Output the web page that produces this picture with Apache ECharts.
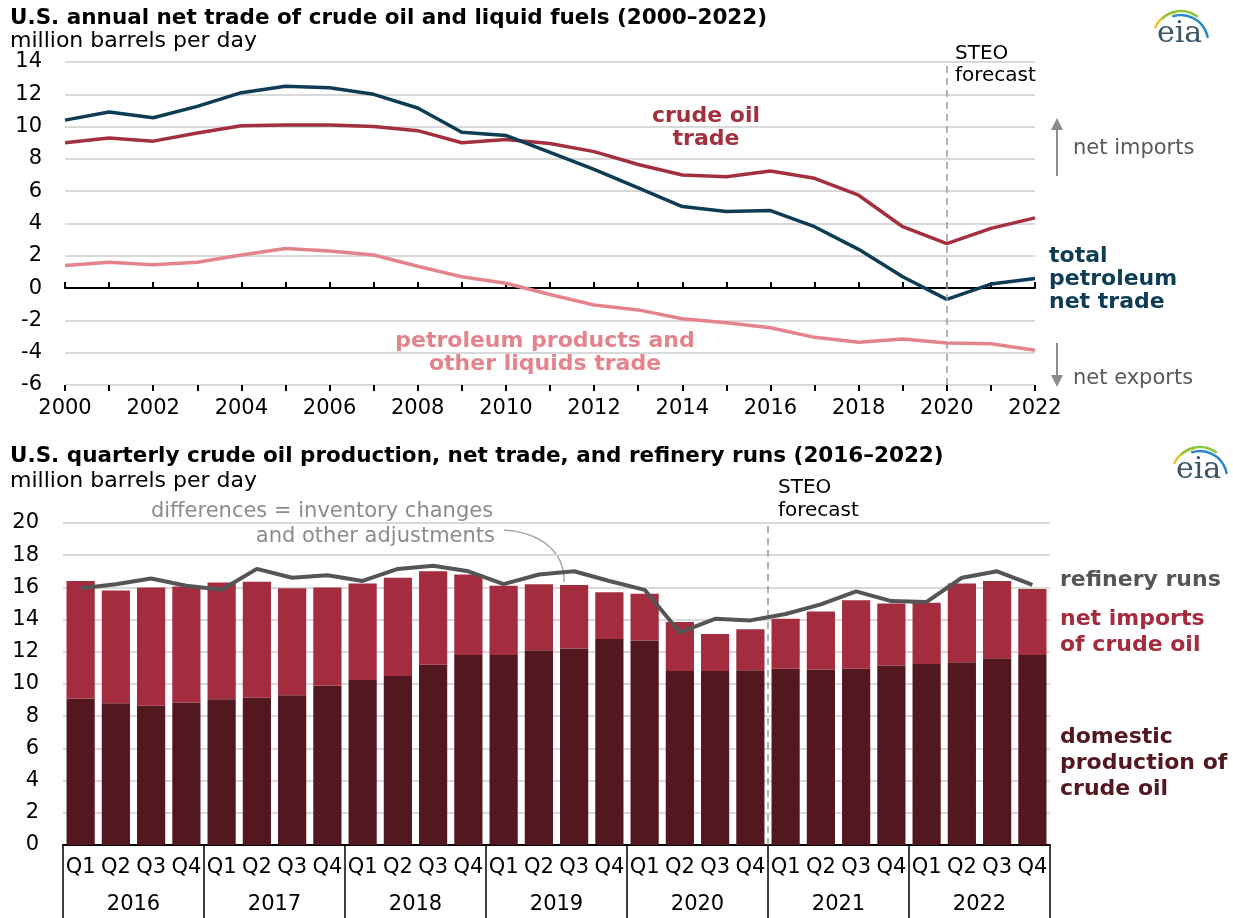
<!DOCTYPE html>
<html>
<head>
<meta charset="utf-8">
<script src="https://cdn.jsdelivr.net/npm/echarts@6/dist/echarts.min.js"></script>
<style>
  html, body { margin: 0; padding: 0; background: #fff; }
  #main { width: 1233px; height: 918px; }
</style>
</head>
<body>
<div id="main"></div>
<script>
// top panel: annual net trade, 2000-2022 (million b/d)
var years = [2000, 2001, 2002, 2003, 2004, 2005, 2006, 2007, 2008, 2009, 2010, 2011,
             2012, 2013, 2014, 2015, 2016, 2017, 2018, 2019, 2020, 2021, 2022];
var totalNetTrade = [10.4, 10.9, 10.55, 11.25, 12.1, 12.5, 12.4, 12.0, 11.15, 9.65, 9.45, 8.4,
                     7.35, 6.2, 5.05, 4.75, 4.8, 3.8, 2.4, 0.7, -0.7, 0.25, 0.6];
var crudeTrade = [9.0, 9.3, 9.1, 9.6, 10.05, 10.1, 10.1, 10.0, 9.75, 9.0, 9.2, 8.95,
                  8.45, 7.65, 7.0, 6.9, 7.25, 6.8, 5.75, 3.8, 2.75, 3.7, 4.35];
var productsTrade = [1.4, 1.6, 1.45, 1.6, 2.05, 2.45, 2.3, 2.05, 1.35, 0.7, 0.3, -0.4,
                     -1.05, -1.35, -1.9, -2.15, -2.45, -3.05, -3.35, -3.15, -3.4, -3.45, -3.85];
var forecastYear = 2020;

// bottom panel: quarterly, 2016-2022 (million b/d)
var quarterNames = ['Q1', 'Q2', 'Q3', 'Q4'];
var yearLabels = ['2016', '2017', '2018', '2019', '2020', '2021', '2022'];
var domesticProduction = [9.1, 8.8, 8.65, 8.85, 9.05, 9.15, 9.3, 9.9,
                          10.25, 10.5, 11.2, 11.8, 11.8, 12.1, 12.2, 12.8,
                          12.7, 10.8, 10.8, 10.85, 10.95, 10.9, 10.95, 11.15,
                          11.25, 11.35, 11.6, 11.8];
var netImportsCrude = [7.3, 7.0, 7.35, 7.2, 7.25, 7.2, 6.65, 6.1,
                       6.0, 6.1, 5.8, 5.0, 4.3, 4.1, 3.95, 2.9,
                       2.9, 3.05, 2.3, 2.55, 3.1, 3.6, 4.25, 3.85,
                       3.8, 4.9, 4.8, 4.1];
var refineryRuns = [15.95, 16.2, 16.55, 16.1, 15.85, 17.15, 16.6, 16.75,
                    16.4, 17.15, 17.35, 17.0, 16.2, 16.8, 17.0, 16.4,
                    15.85, 13.2, 14.05, 13.95, 14.35, 14.95, 15.75, 15.15,
                    15.1, 16.6, 17.0, 16.15];
var forecastQuarterIndex = 20; // 2021 Q1 starts the forecast

var quarterLabels = [];
yearLabels.forEach(function () {
  quarterNames.forEach(function (q) { quarterLabels.push(q); });
});

var FONT = 'DejaVu Sans';
var TICK = 21;
var C_TOTAL = '#0d3c55';
var C_CRUDE = '#a3303f';
var C_PROD = '#e3848d';
var C_DOM = '#52171f';
var C_IMP = '#a32c3e';
var C_RUNS = '#555555';

function pairs(xs, ys) {
  return xs.map(function (x, i) { return [x, ys[i]]; });
}

function txt(x, y, text, opt) {
  opt = opt || {};
  return {
    type: 'text', silent: true,
    style: {
      x: x, y: y, text: text,
      font: (opt.weight || 'normal') + ' ' + (opt.size || 21) + 'px "' + FONT + '"',
      fill: opt.color || '#000',
      textAlign: opt.align || 'left',
      textVerticalAlign: 'middle',
      lineHeight: opt.lh || 23
    }
  };
}

function logo(x, y) {
  return [
    { type: 'arc', silent: true, shape: { cx: x + 22, cy: y + 34, r: 26, startAngle: -2.75, endAngle: -1.7 },
      style: { stroke: '#f2c01e', lineWidth: 2.5, fill: null } },
    { type: 'arc', silent: true, shape: { cx: x + 24, cy: y + 34, r: 27, startAngle: -2.35, endAngle: -0.9 },
      style: { stroke: '#8cc63f', lineWidth: 2.5, fill: null } },
    { type: 'arc', silent: true, shape: { cx: x + 24, cy: y + 38, r: 27, startAngle: -1.9, endAngle: -0.15 },
      style: { stroke: '#2a8ac8', lineWidth: 2.5, fill: null } },
    { type: 'text', silent: true,
      style: { x: x, y: y + 30, text: 'eia', font: '30px "DejaVu Serif"', fill: '#3b5566',
               textVerticalAlign: 'middle' } }
  ];
}

function arrow(x, y1, y2) {
  var dir = y2 < y1 ? -1 : 1;
  return [
    { type: 'line', silent: true, shape: { x1: x, y1: y1, x2: x, y2: y2 - dir * 10 },
      style: { stroke: '#8c8c8c', lineWidth: 2 } },
    { type: 'polygon', silent: true,
      shape: { points: [[x - 6, y2 - dir * 12], [x + 6, y2 - dir * 12], [x, y2]] },
      style: { fill: '#8c8c8c' } }
  ];
}

var myChart = echarts.init(document.getElementById('main'));

var option = {
  backgroundColor: '#fff',
  animation: false,
  grid: [
    { left: 65, right: 198, top: 62, bottom: 533 },
    { left: 63, right: 183, top: 523, bottom: 73 }
  ],
  xAxis: [
    // top: year labels along the bottom
    { gridIndex: 0, type: 'value', min: 2000, max: 2022, interval: 2, position: 'bottom',
      axisLine: { show: false, onZero: false }, axisTick: { show: false }, splitLine: { show: false },
      axisLabel: { fontFamily: FONT, fontSize: TICK, color: '#000', margin: 13,
                   formatter: function (v) { return String(v); } } },
    // top: zero line with ticks crossing it
    { gridIndex: 0, type: 'value', min: 2000, max: 2022, interval: 1, position: 'bottom',
      axisLine: { show: true, onZero: true, lineStyle: { color: '#000', width: 2 } },
      axisTick: { show: true, inside: true, length: 6, lineStyle: { color: '#000', width: 2 } },
      axisLabel: { show: false }, splitLine: { show: false } },
    { gridIndex: 0, type: 'value', min: 2000, max: 2022, interval: 1, position: 'bottom',
      axisLine: { show: false, onZero: true },
      axisTick: { show: true, inside: false, length: 6, lineStyle: { color: '#000', width: 2 } },
      axisLabel: { show: false }, splitLine: { show: false } },
    // bottom: quarters
    { gridIndex: 1, type: 'category', data: quarterLabels, position: 'bottom',
      axisLine: { show: false }, axisTick: { show: false },
      axisLabel: { interval: 0, fontFamily: FONT, fontSize: TICK, color: '#000', margin: 12 } },
    // bottom: years with separators
    { gridIndex: 1, type: 'category', data: yearLabels, position: 'bottom',
      axisLine: { show: true, lineStyle: { color: '#000', width: 2 } },
      axisTick: { show: true, interval: 0, length: 75, lineStyle: { color: '#000', width: 1.5 } },
      axisLabel: { interval: 0, fontFamily: FONT, fontSize: TICK, color: '#000', margin: 49 } },
    // bottom: hidden helper axis for the forecast divider
    { gridIndex: 1, type: 'value', min: 0, max: quarterLabels.length, show: false }
  ],
  yAxis: [
    { gridIndex: 0, type: 'value', min: -6, max: 14, interval: 2,
      axisLine: { show: false }, axisTick: { show: false },
      splitLine: { lineStyle: { color: '#d9d9d9', width: 2 } },
      axisLabel: { fontFamily: FONT, fontSize: TICK, color: '#000', margin: 23 } },
    { gridIndex: 1, type: 'value', min: 0, max: 20, interval: 2,
      axisLine: { show: false }, axisTick: { show: false },
      splitLine: { lineStyle: { color: '#d9d9d9', width: 2 } },
      axisLabel: { fontFamily: FONT, fontSize: TICK, color: '#000', margin: 24 } }
  ],
  series: [
    { name: 'petroleum products and other liquids trade', type: 'line', xAxisIndex: 0, yAxisIndex: 0,
      data: pairs(years, productsTrade), showSymbol: false, silent: true,
      lineStyle: { color: C_PROD, width: 3.5 },
      markLine: { silent: true, symbol: 'none', label: { show: false },
                  lineStyle: { color: '#9a9a9a', type: [7, 5], width: 1.5 },
                  data: [{ xAxis: forecastYear }] } },
    { name: 'crude oil trade', type: 'line', xAxisIndex: 0, yAxisIndex: 0,
      data: pairs(years, crudeTrade), showSymbol: false, silent: true,
      lineStyle: { color: C_CRUDE, width: 3.5 } },
    { name: 'total petroleum net trade', type: 'line', xAxisIndex: 0, yAxisIndex: 0,
      data: pairs(years, totalNetTrade), showSymbol: false, silent: true,
      lineStyle: { color: C_TOTAL, width: 3.5 } },

    { name: 'domestic production of crude oil', type: 'bar', xAxisIndex: 3, yAxisIndex: 1,
      stack: 'supply', data: domesticProduction, barCategoryGap: '20%', silent: true,
      itemStyle: { color: C_DOM } },
    { name: 'net imports of crude oil', type: 'bar', xAxisIndex: 3, yAxisIndex: 1,
      stack: 'supply', data: netImportsCrude, barCategoryGap: '20%', silent: true,
      itemStyle: { color: C_IMP } },
    { name: 'refinery runs', type: 'line', xAxisIndex: 3, yAxisIndex: 1, z: 5,
      data: refineryRuns, showSymbol: false, silent: true,
      lineStyle: { color: C_RUNS, width: 4 } },
    { name: 'forecast', type: 'line', xAxisIndex: 5, yAxisIndex: 1, data: [], silent: true,
      markLine: { silent: true, symbol: 'none', label: { show: false },
                  lineStyle: { color: '#9a9a9a', type: [7, 5], width: 1.5 },
                  data: [{ xAxis: forecastQuarterIndex }] } }
  ],
  graphic: [].concat(
    [
      txt(10, 18, 'U.S. annual net trade of crude oil and liquid fuels (2000\u20132022)', { weight: 'bold', size: 21.5 }),
      txt(10, 41, 'million barrels per day', { size: 22 }),
      txt(955, 65, 'STEO\nforecast', { size: 20, lh: 22 }),
      txt(706, 128, 'crude oil\ntrade', { weight: 'bold', size: 22, color: C_CRUDE, align: 'center' }),
      txt(1049, 279, 'total\npetroleum\nnet trade', { weight: 'bold', size: 22, color: C_TOTAL }),
      txt(545, 353, 'petroleum products and\nother liquids trade', { weight: 'bold', size: 22, color: C_PROD, align: 'center' }),
      txt(1073, 149, 'net imports', { size: 21, color: '#595959' }),
      txt(1073, 379, 'net exports', { size: 21, color: '#595959' }),

      txt(10, 456, 'U.S. quarterly crude oil production, net trade, and refinery runs (2016\u20132022)', { weight: 'bold', size: 21.5 }),
      txt(10, 481, 'million barrels per day', { size: 22 }),
      txt(778, 499, 'STEO\nforecast', { size: 20, lh: 23 }),
      txt(322, 512, 'differences = inventory changes', { size: 21, color: '#8c8c8c', align: 'center' }),
      txt(495, 537, 'and other adjustments', { size: 21, color: '#8c8c8c', align: 'right' }),
      txt(1060, 580, 'refinery runs', { weight: 'bold', size: 22, color: C_RUNS }),
      txt(1060, 632, 'net imports\nof crude oil', { weight: 'bold', size: 22, color: C_IMP, lh: 26 }),
      txt(1060, 763, 'domestic\nproduction of\ncrude oil', { weight: 'bold', size: 22, color: C_DOM, lh: 26 }),
      { type: 'bezierCurve', silent: true,
        shape: { x1: 504, y1: 530, cpx1: 545, cpy1: 533, cpx2: 565, cpy2: 555, x2: 564, y2: 582 },
        style: { stroke: '#a6a6a6', lineWidth: 1.5, fill: null } }
    ],
    arrow(1057, 176, 118),
    arrow(1057, 343, 387),
    logo(1157, 4),
    logo(1176, 440)
  )
};

myChart.setOption(option);
</script>
</body>
</html>
